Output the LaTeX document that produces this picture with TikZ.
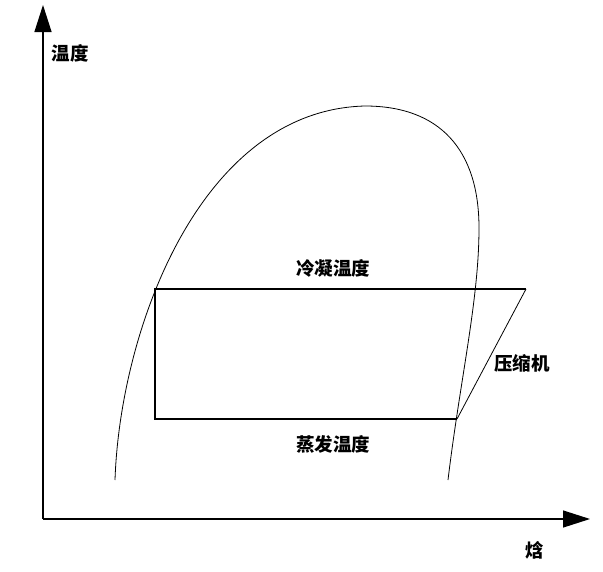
\documentclass[tikz,border=0pt]{standalone}
\usepackage{fontspec}
\newfontfamily\cjk{Noto Sans CJK SC}
\usetikzlibrary{arrows.meta}
\begin{document}
\begin{tikzpicture}[x=1pt,y=-1pt,
  axis/.style={line width=1.3pt,-{Triangle[length=27pt,width=17pt]}},
  cycleline/.style={line width=1.2pt,line join=miter},
  dome/.style={line width=0.8pt},
  lbl/.style={font=\cjk\fontsize{18.5}{18.5}\selectfont\bfseries,inner sep=0pt}]
\useasboundingbox (0,0) rectangle (603,571);
\coordinate (O) at (43,519);
\coordinate (ytip) at (43,5);
\coordinate (xtip) at (590,519);
\draw[axis] (O) -- (ytip);
\draw[axis] (O) -- (xtip);
\node[lbl] (tl) at (70,53) {温度};
\node[lbl] (hl) at (535,550) {焓};
% saturation dome
\coordinate (s1) at (115,480);
\coordinate (top) at (365,106);
\coordinate (rm) at (479,228);
\coordinate (s2) at (448,480);
\draw[dome] (s1) .. controls (120,330) and (200,110) .. (top)
  .. controls (440,106) and (479,150) .. (rm)
  .. controls (479,300) and (460,380) .. (s2);
% cycle
\coordinate (a) at (155,419);
\coordinate (b) at (155,289);
\coordinate (c) at (526,289);
\coordinate (d) at (457,419);
\draw[cycleline] (d) -- (a) -- (b) -- (c);
\draw[dome] (c) -- (d);
\node[lbl] (cond) at (333,268) {冷凝温度};
\node[lbl] (evap) at (333,444) {蒸发温度};
\node[lbl] (comp) at (522,363) {压缩机};
\end{tikzpicture}
\end{document}
